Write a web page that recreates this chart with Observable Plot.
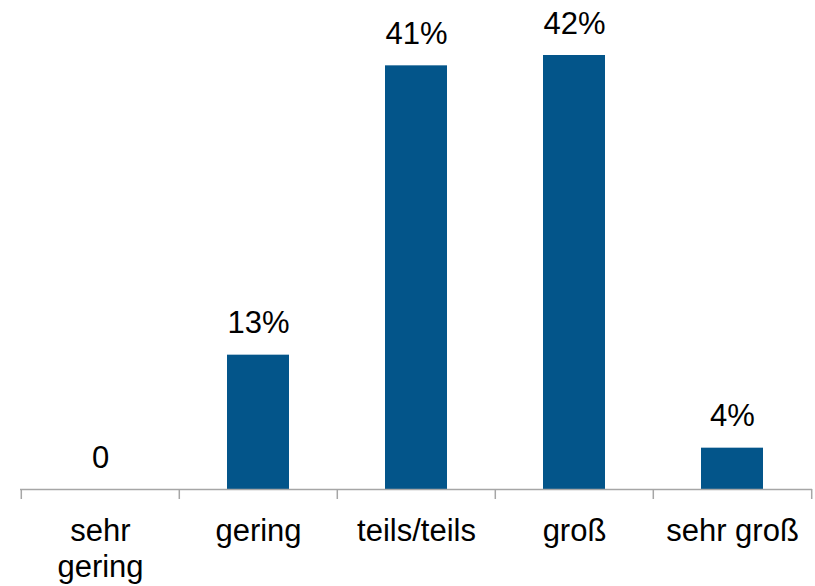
<!DOCTYPE html>
<html>
<head>
<meta charset="utf-8">
<script src="https://cdn.jsdelivr.net/npm/d3@7"></script>
<script src="https://cdn.jsdelivr.net/npm/@observablehq/plot@0.6"></script>
<style>
  html, body { margin: 0; padding: 0; background: #fff; }
  #chart svg { display: block; }
</style>
</head>
<body>
<div id="chart"></div>
<script>
const categories = ["sehr gering", "gering", "teils/teils", "groß", "sehr groß"];
const tickLabels = ["sehr\ngering", "gering", "teils/teils", "groß", "sehr groß"];
const values = [0, 13, 41, 42, 4];
const valueLabels = ["0", "13%", "41%", "42%", "4%"];

const data = categories.map((c, i) => ({category: c, value: values[i], label: valueLabels[i], tick: tickLabels[i]}));

const width = 815, height = 586;
const marginLeft = 20, marginRight = 3;
const step = (width - marginLeft - marginRight) / categories.length;
const barColor = "#03558a";
const font = "Liberation Sans, Arial, sans-serif";

const plot = Plot.plot({
  width, height,
  marginTop: 24, marginBottom: 97, marginLeft, marginRight,
  style: {fontFamily: font, fontSize: "31px", color: "#000", background: "#fff"},
  x: {domain: categories, paddingInner: 0.61, paddingOuter: 0.305, label: null},
  y: {domain: [0, 45], axis: null},
  marks: [
    Plot.barY(data, {x: "category", y: "value", fill: barColor}),
    Plot.ruleY([0], {stroke: "#a6a6a6", strokeWidth: 1.5}),
    Plot.ruleX(categories, {x: d => d, y1: 0, y2: -0.97, dx: -step / 2, stroke: "#a6a6a6", strokeWidth: 1.5}),
    Plot.ruleX(categories.slice(-1), {x: d => d, y1: 0, y2: -0.97, dx: step / 2, stroke: "#a6a6a6", strokeWidth: 1.5}),
    Plot.text(data, {x: "category", y: "value", text: "label", lineAnchor: "bottom", dy: -22, fill: "#000", fontSize: 31, fontFamily: font}),
    Plot.axisX({tickSize: 0, tickPadding: 26, tickFormat: (d) => tickLabels[categories.indexOf(d)], fontSize: 31, lineHeight: 1.16, label: null, fill: "#000"})
  ]
});
document.getElementById("chart").appendChild(plot);
</script>
</body>
</html>
